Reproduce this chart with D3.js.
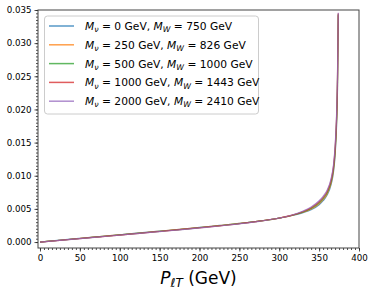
<!DOCTYPE html>
<html><head><meta charset="utf-8">
<script src="https://cdn.jsdelivr.net/npm/d3@7"></script>
<style>
body{margin:0;background:#fff;}
text{font-family:"DejaVu Sans",sans-serif;}
</style></head>
<body><svg id="c" width="374" height="292"></svg>
<script>
const pT = [0,25,50,75,100,125,150,175,200,225,250,275,300,315,330,340,350,355,360,365,368,370,372,373,374];
const mNu = [0,250,500,1000,2000];
const mW = [750,826,1000,1443,2410];
const colors = ["#1f77b4","#ff7f0e","#2ca02c","#d62728","#9467bd"];
const s0 = [0,0.000276,0.000551,0.000826,0.00110,0.00138,0.00165,0.00192,0.00221,0.00250,0.00281,0.00317,0.00362,0.00396,0.00443,0.00488,0.00563,0.00623,0.00708,0.00865,0.01055,0.01300,0.01790,0.02270,0.03420];
const s1 = [0,0.000272,0.000543,0.000814,0.00109,0.00136,0.00163,0.00190,0.00219,0.00248,0.00280,0.00316,0.00362,0.00398,0.00449,0.00498,0.00577,0.00640,0.00726,0.00887,0.01082,0.01335,0.01835,0.02325,0.03430];
const s2 = [0,0.000268,0.000535,0.000802,0.00107,0.00134,0.00161,0.00188,0.00217,0.00246,0.00278,0.00315,0.00362,0.00400,0.00455,0.00508,0.00592,0.00656,0.00745,0.00910,0.01110,0.01370,0.01880,0.02380,0.03440];
const s3 = [0,0.000264,0.000527,0.000790,0.00105,0.00132,0.00159,0.00186,0.00215,0.00244,0.00276,0.00314,0.00362,0.00402,0.00461,0.00518,0.00607,0.00672,0.00764,0.00933,0.01138,0.01405,0.01925,0.02435,0.03450];
const s4 = [0,0.000260,0.000519,0.000778,0.00104,0.00130,0.00157,0.00184,0.00213,0.00242,0.00275,0.00313,0.00362,0.00404,0.00467,0.00528,0.00622,0.00689,0.00782,0.00955,0.01165,0.01440,0.01970,0.02490,0.03460];
const series = [s0,s1,s2,s3,s4];
const xTicks = [0,50,100,150,200,250,300,350,400];
const yTicks = [0,0.005,0.010,0.015,0.020,0.025,0.030,0.035];

const L=38,R=359,T=10,B=248;
const svg=d3.select("#c");
const x=d3.scaleLinear().domain([-2.5,400]).range([L,R]);
const y=d3.scaleLinear().domain([-0.0009,0.035]).range([B,T]);

// curves
const line=d3.line().x((d,i)=>x(pT[i])).y(d=>y(d)).curve(d3.curveMonotoneX);
series.forEach((s,k)=>{
  svg.append("path").attr("d",line(s)).attr("fill","none")
    .attr("stroke",colors[k]).attr("stroke-width",1.2).attr("stroke-opacity",0.75);
});

// minor ticks
const gx=svg.append("g").attr("transform",`translate(0,${B})`);
gx.call(d3.axisBottom(x).tickValues(d3.range(0,401,5)).tickSize(2).tickFormat(""));
const gy=svg.append("g").attr("transform",`translate(${L},0)`);
gy.call(d3.axisLeft(y).tickValues(d3.range(0,0.03501,0.0005)).tickSize(2).tickFormat(""));
// major ticks
const gx2=svg.append("g").attr("transform",`translate(0,${B})`);
gx2.call(d3.axisBottom(x).tickValues(xTicks).tickSize(3.5).tickPadding(3).tickFormat(d3.format("d")));
const gy2=svg.append("g").attr("transform",`translate(${L},0)`);
gy2.call(d3.axisLeft(y).tickValues(yTicks).tickSize(3.5).tickPadding(3).tickFormat(d3.format(".3f")));
[gx,gy,gx2,gy2].forEach(g=>{g.select(".domain").remove();g.selectAll("line").attr("stroke","#222").attr("stroke-width",0.8);
  g.selectAll("text").attr("font-size","8.7px").attr("fill","#000").attr("font-family","DejaVu Sans");});

// frame
svg.append("rect").attr("x",L).attr("y",T).attr("width",R-L).attr("height",B-T)
  .attr("fill","none").attr("stroke","#444").attr("stroke-width",1);

// legend
const lg=svg.append("g");
lg.append("rect").attr("x",44.5).attr("y",16).attr("width",214).attr("height",98).attr("rx",3)
  .attr("fill","#fff").attr("fill-opacity",0.8).attr("stroke","#ccc").attr("stroke-width",1);
mNu.forEach((m,i)=>{
  const yy=26+i*18.8;
  lg.append("line").attr("x1",49).attr("x2",74).attr("y1",yy).attr("y2",yy)
    .attr("stroke",colors[i]).attr("stroke-width",1.5).attr("stroke-opacity",0.75);
  const t=lg.append("text").attr("x",85).attr("y",yy+4).attr("font-size","10.7px").attr("fill","#000");
  t.append("tspan").attr("font-style","italic").text("M");
  t.append("tspan").attr("font-style","italic").attr("font-size","7.8px").attr("dy",2.2).text("ν");
  t.append("tspan").attr("dy",-2.2).text(` = ${m} GeV, `);
  t.append("tspan").attr("font-style","italic").text("M");
  t.append("tspan").attr("font-style","italic").attr("font-size","7.8px").attr("dy",2.2).text("W");
  t.append("tspan").attr("dy",-2.2).text(` = ${mW[i]} GeV`);
});

// x label
const xl=svg.append("text").attr("x",(L+R)/2).attr("y",284).attr("text-anchor","middle")
  .attr("font-size","17px").attr("fill","#000");
xl.append("tspan").attr("font-style","italic").text("P");
xl.append("tspan").attr("font-style","italic").attr("font-size","12px").attr("dy",3).text("ℓT");
xl.append("tspan").attr("dy",-3).text(" (GeV)");
</script></body></html>
